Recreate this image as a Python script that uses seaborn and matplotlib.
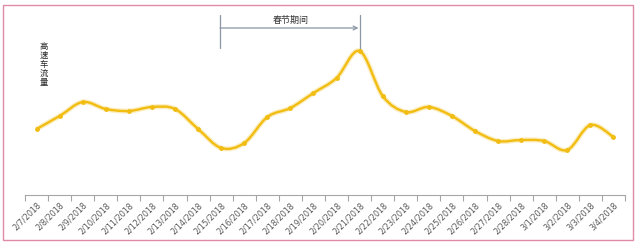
import numpy as np
import pandas as pd
import matplotlib
matplotlib.use("Agg")
import matplotlib.pyplot as plt
import seaborn as sns
from matplotlib.path import Path
from matplotlib.patches import PathPatch, Rectangle

dates = ["2/7/2018", "2/8/2018", "2/9/2018", "2/10/2018", "2/11/2018", "2/12/2018",
         "2/13/2018", "2/14/2018", "2/15/2018", "2/16/2018", "2/17/2018", "2/18/2018",
         "2/19/2018", "2/20/2018", "2/21/2018", "2/22/2018", "2/23/2018", "2/24/2018",
         "2/25/2018", "2/26/2018", "2/27/2018", "2/28/2018", "3/1/2018", "3/2/2018",
         "3/3/2018", "3/4/2018"]
traffic = [66, 79, 93, 86, 84, 88, 86, 66, 47, 52, 78, 87, 102, 117, 144, 99, 83, 88,
           79, 64, 54, 55, 54, 45, 70, 58]
ylabel_text = "高速车流量"
period_text = "春节期间"
period_start = "2/15/2018"
period_end = "2/21/2018"

sns.set_theme(style="white")
plt.rcParams['font.family'] = ['Noto Sans CJK SC', 'DejaVu Sans']

W, H = 637, 243
fig = plt.figure(figsize=(W / 100, H / 100), dpi=100)
fig.patch.set_facecolor("white")
ax = fig.add_axes([25 / W, 1 - 195 / H, 600 / W, 180 / H])

df = pd.DataFrame({"date": dates, "traffic": traffic})
df["i"] = np.arange(len(df))
line_color = "#f2bd12"

sns.lineplot(data=df, x="i", y="traffic", ax=ax, color=line_color, marker="o",
             markersize=3.5, markeredgewidth=0, linestyle="", zorder=4)

# Smoothed line (Excel-style Catmull-Rom rendered as cubic Beziers)
xs = df["i"].to_numpy(float)
ys = df["traffic"].to_numpy(float)
verts = [(xs[0], ys[0])]
codes = [Path.MOVETO]
n = len(xs)
for k in range(n - 1):
    p0 = (xs[max(k - 1, 0)], ys[max(k - 1, 0)])
    p1 = (xs[k], ys[k])
    p2 = (xs[k + 1], ys[k + 1])
    p3 = (xs[min(k + 2, n - 1)], ys[min(k + 2, n - 1)])
    t = 1 / 6
    c1 = (p1[0] + (p2[0] - p0[0]) * t, p1[1] + (p2[1] - p0[1]) * t)
    c2 = (p2[0] - (p3[0] - p1[0]) * t, p2[1] - (p3[1] - p1[1]) * t)
    verts += [c1, c2, p2]
    codes += [Path.CURVE4] * 3
path = Path(verts, codes)
ax.add_patch(PathPatch(path, facecolor="none", edgecolor="#f8dc80", lw=3.6, alpha=0.5, zorder=2))
ax.add_patch(PathPatch(path, facecolor="none", edgecolor=line_color, lw=1.7, zorder=3))

ax.set_xlim(-0.5, len(dates) - 0.5)
ax.set_ylim(0, 180)
ax.set_xlabel("")
ax.set_ylabel("")
ax.set_yticks([])
ax.set_xticks(np.arange(len(dates)))
ax.set_xticklabels(dates, rotation=45, ha="right", rotation_mode="anchor",
                   fontsize=5.8, color="#595959", family=["DejaVu Sans"])
ax.set_xticks(np.arange(len(dates) + 1) - 0.5, minor=True)
ax.tick_params(axis="x", which="major", length=0, pad=4)
ax.tick_params(axis="x", which="minor", length=4, width=0.8, color="#a6a6a6", direction="out")
ax.tick_params(axis="x", which="both", bottom=True)
for s in ["top", "right", "left"]:
    ax.spines[s].set_visible(False)
ax.spines["bottom"].set_color("#a6a6a6")
ax.spines["bottom"].set_linewidth(0.8)

# y label: stacked characters
fig.text(44 / W, 1 - 64 / H, "\n".join(ylabel_text), ha="center", va="center",
         fontsize=6, color="#262626", linespacing=1.0)

# Spring festival bracket annotation
i0 = dates.index(period_start)
i1 = dates.index(period_end)
gray = "#8c97a6"
ax.plot([i0 - 0.05, i0 - 0.05], [147, 180], color=gray, lw=0.9, clip_on=False)
ax.plot([i1, i1], [145, 180], color=gray, lw=0.9, clip_on=False)
ax.annotate("", xy=(i1 - 0.05, 167), xytext=(i0 - 0.05, 167),
            arrowprops=dict(arrowstyle="->", color=gray, lw=0.9, shrinkA=0, shrinkB=0,
                            mutation_scale=7), annotation_clip=False)
ax.text((i0 + i1) / 2, 170.5, period_text, ha="center", va="bottom", fontsize=6.5,
        color="#333333")

# pink frame
fig.add_artist(Rectangle((2.5 / W, 1 - 239.5 / H), 630 / W, 234 / H,
                         transform=fig.transFigure, facecolor="none",
                         edgecolor="#e08aa6", lw=1.0))

fig.savefig("out.png", dpi=100)
